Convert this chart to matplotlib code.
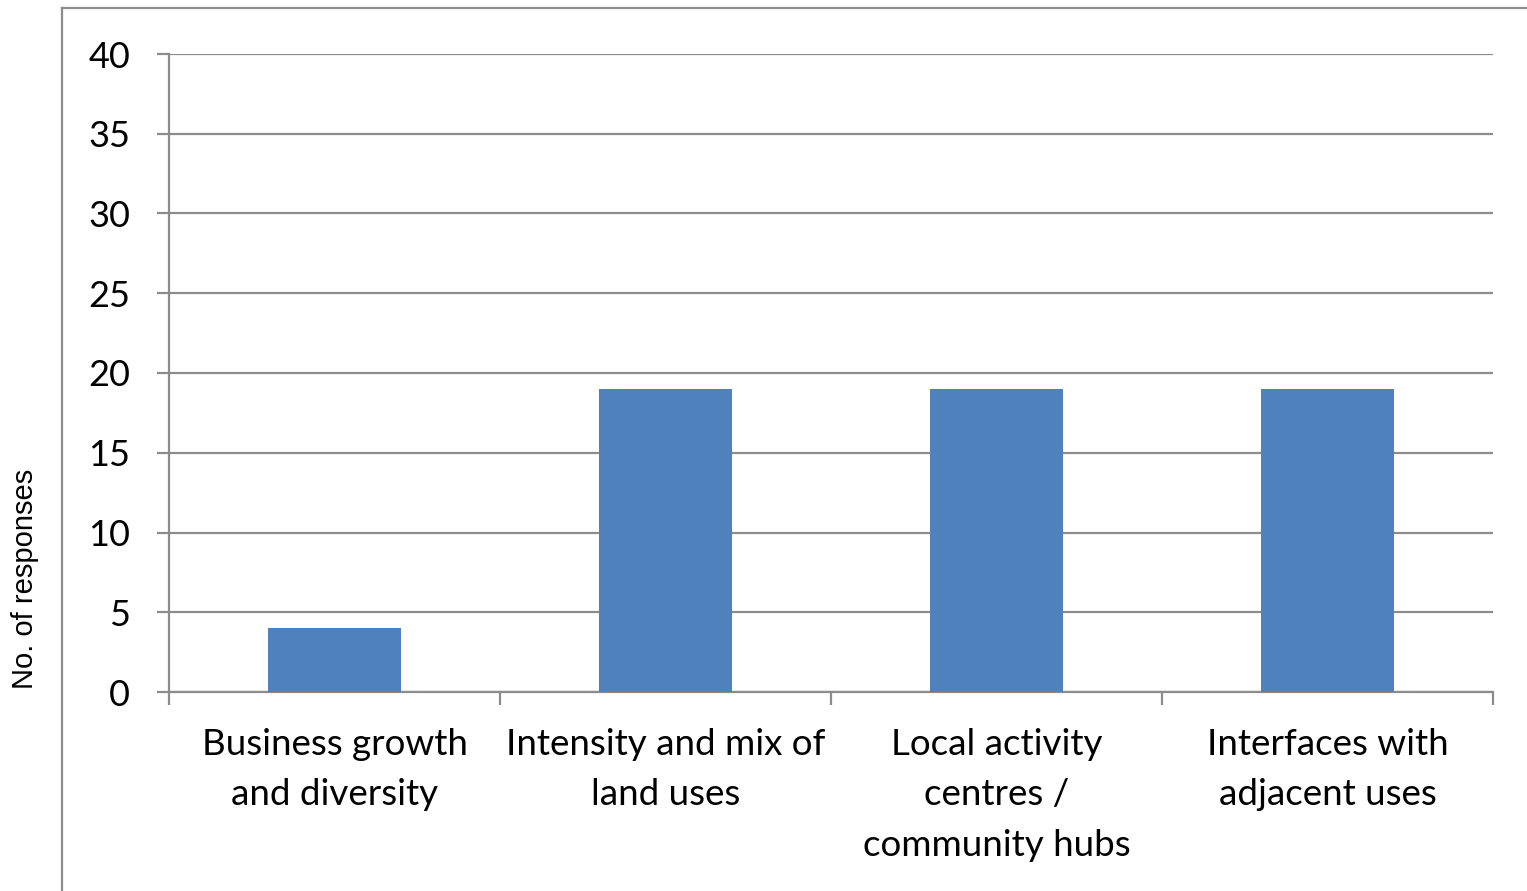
import numpy as np
import matplotlib.pyplot as plt
from matplotlib.lines import Line2D

categories = [
    "Business growth\nand diversity",
    "Intensity and mix of\nland uses",
    "Local activity\ncentres /\ncommunity hubs",
    "Interfaces with\nadjacent uses",
]
responses = [4, 19, 19, 19]
y_ticks = [0, 5, 10, 15, 20, 25, 30, 35, 40]

W, H = 1527, 891
fig = plt.figure(figsize=(W / 100, H / 100), dpi=100)
ax = fig.add_axes([169 / W, 1 - 692 / H, (1493 - 169) / W, (692 - 54) / H])

grey = "#8c8c8c"
x = np.arange(len(categories))
ax.bar(x, responses, width=0.4, color="#4f81bd", zorder=3)

ax.set_xlim(-0.5, len(categories) - 0.5)
ax.set_ylim(0, 40)
ax.set_yticks(y_ticks)
ax.yaxis.grid(True, color=grey, linewidth=1.6, zorder=0)

ax.set_xticks(x)
ax.set_xticklabels(categories, fontfamily="Lato", fontsize=26.5, linespacing=1.64)
ax.set_xticks(np.arange(len(categories) + 1) - 0.5, minor=True)
ax.tick_params(axis="x", which="major", length=0, pad=26)
ax.tick_params(axis="x", which="minor", length=9, width=1.6, color=grey)
ax.tick_params(axis="y", length=9, width=1.6, color=grey, pad=19, labelsize=26)
for lbl in ax.get_yticklabels():
    lbl.set_fontfamily("Lato")

for side in ("top", "right"):
    ax.spines[side].set_visible(False)
for side in ("left", "bottom"):
    ax.spines[side].set_color(grey)
    ax.spines[side].set_linewidth(1.6)

fig.text(25 / W, 1 - 579 / H, "No. of responses", rotation=90, ha="center", va="center",
         fontfamily="Liberation Sans", fontsize=21)

# outer chart frame (left and top edges only visible)
fig.add_artist(Line2D([62 / W, 62 / W], [0, 1 - 8 / H], transform=fig.transFigure,
                      color=grey, linewidth=1.6))
fig.add_artist(Line2D([62 / W, 1], [1 - 8 / H, 1 - 8 / H], transform=fig.transFigure,
                      color=grey, linewidth=1.6))

fig.savefig("out.png", dpi=100)
